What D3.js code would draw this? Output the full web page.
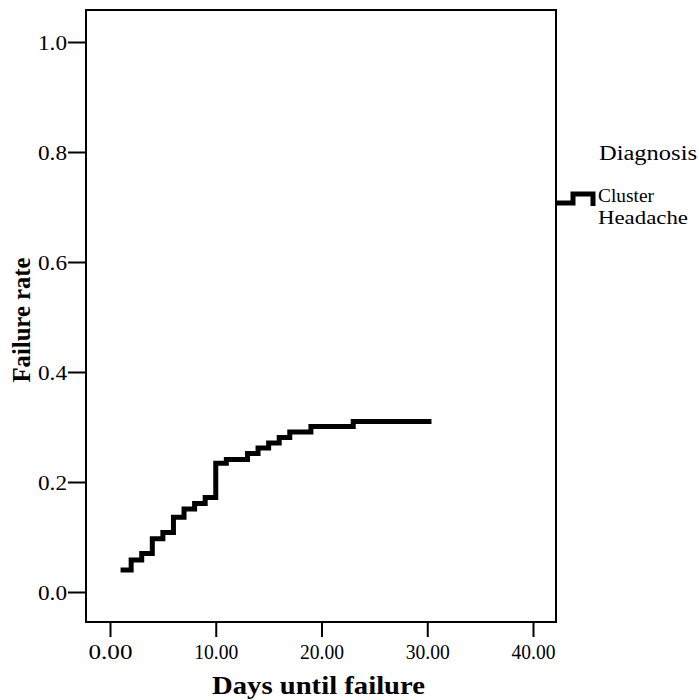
<!DOCTYPE html>
<html>
<head>
<meta charset="utf-8">
<script src="https://cdn.jsdelivr.net/npm/d3@7"></script>
<style>
  html, body { margin: 0; padding: 0; background: #fff; }
  svg { display: block; }
  text { font-family: "Liberation Serif", "Times New Roman", serif; fill: #000; }
</style>
</head>
<body>
<div id="chart"></div>
<script>
// ---- data ----
const eventDays = [1, 2, 3, 4, 5, 6, 7, 8, 9, 10, 11, 13, 14, 15, 16, 17, 19, 23];
const failureRate = [0.040, 0.058, 0.070, 0.097, 0.108, 0.136, 0.151, 0.161, 0.172,
                     0.234, 0.241, 0.252, 0.262, 0.271, 0.281, 0.291, 0.301, 0.310];
const lastDay = 30.4;
const xTicks = [0, 10, 20, 30, 40];
const yTicks = [0, 0.2, 0.4, 0.6, 0.8, 1.0];
const legendTitle = "Diagnosis";
const seriesName = ["Cluster", "Headache"];
const xTitle = "Days until failure";
const yTitle = "Failure rate";

// ---- layout ----
const W = 699, H = 700;
const frame = { left: 86, right: 556, top: 10, bottom: 622 };

const svg = d3.select("#chart").append("svg")
  .attr("width", W).attr("height", H);
svg.append("rect").attr("width", W).attr("height", H).attr("fill", "#fff");

const x = d3.scaleLinear().domain([0, 40]).range([110, 533]);
const y = d3.scaleLinear().domain([0, 1]).range([592, 42]);

// frame
svg.append("rect")
  .attr("x", frame.left).attr("y", frame.top)
  .attr("width", frame.right - frame.left)
  .attr("height", frame.bottom - frame.top)
  .attr("fill", "none").attr("stroke", "#000").attr("stroke-width", 2);

// y axis
const yAxis = svg.append("g")
  .attr("transform", `translate(${frame.left},0)`)
  .call(d3.axisLeft(y).tickValues(yTicks).tickFormat(d3.format(".1f"))
    .tickSize(18).tickPadding(1));
yAxis.select(".domain").remove();
yAxis.selectAll(".tick line").attr("stroke", "#000").attr("stroke-width", 2);
yAxis.selectAll(".tick text")
  .attr("font-family", "Liberation Serif").attr("font-size", 20)
  .attr("fill", "#000")
  .attr("textLength", 29).attr("lengthAdjust", "spacingAndGlyphs")
  .attr("dy", "0.36em");

// x axis
const xAxis = svg.append("g")
  .attr("transform", `translate(0,${frame.bottom})`)
  .call(d3.axisBottom(x).tickValues(xTicks).tickFormat(d3.format(".2f"))
    .tickSize(15).tickPadding(8));
xAxis.select(".domain").remove();
xAxis.selectAll(".tick line").attr("stroke", "#000").attr("stroke-width", 2);
xAxis.selectAll(".tick text")
  .attr("font-family", "Liberation Serif").attr("font-size", 20)
  .attr("fill", "#000")
  .attr("textLength", 44).attr("lengthAdjust", "spacingAndGlyphs");

// step line
const pts = eventDays.map((d, i) => [d, failureRate[i]]);
pts.push([lastDay, failureRate[failureRate.length - 1]]);
const line = d3.line()
  .x(d => x(d[0])).y(d => y(d[1]))
  .curve(d3.curveStepAfter);
svg.append("path")
  .datum(pts)
  .attr("d", line)
  .attr("fill", "none")
  .attr("stroke", "#000")
  .attr("stroke-width", 5)
  .attr("stroke-linejoin", "miter")
  .attr("stroke-linecap", "butt");

// axis titles
svg.append("text")
  .attr("x", 212).attr("y", 694)
  .attr("font-size", 26).attr("font-weight", "bold")
  .attr("textLength", 213).attr("lengthAdjust", "spacingAndGlyphs")
  .text(xTitle);

svg.append("text")
  .attr("transform", "translate(30,320) rotate(-90)")
  .attr("text-anchor", "middle")
  .attr("font-size", 26).attr("font-weight", "bold")
  .attr("textLength", 125).attr("lengthAdjust", "spacingAndGlyphs")
  .text(yTitle);

// legend
svg.append("text")
  .attr("x", 599).attr("y", 160)
  .attr("font-size", 20)
  .attr("textLength", 98).attr("lengthAdjust", "spacingAndGlyphs")
  .text(legendTitle);

const legSym = [[557, 203], [573, 203], [573, 194], [593, 194], [593, 206]];
svg.append("path")
  .attr("d", d3.line()(legSym))
  .attr("fill", "none").attr("stroke", "#000")
  .attr("stroke-width", 5).attr("stroke-linejoin", "miter");

svg.append("text")
  .attr("x", 598).attr("y", 202)
  .attr("font-size", 18)
  .attr("textLength", 56).attr("lengthAdjust", "spacingAndGlyphs")
  .text(seriesName[0]);
svg.append("text")
  .attr("x", 598).attr("y", 224)
  .attr("font-size", 18)
  .attr("textLength", 90).attr("lengthAdjust", "spacingAndGlyphs")
  .text(seriesName[1]);
</script>
</body>
</html>
